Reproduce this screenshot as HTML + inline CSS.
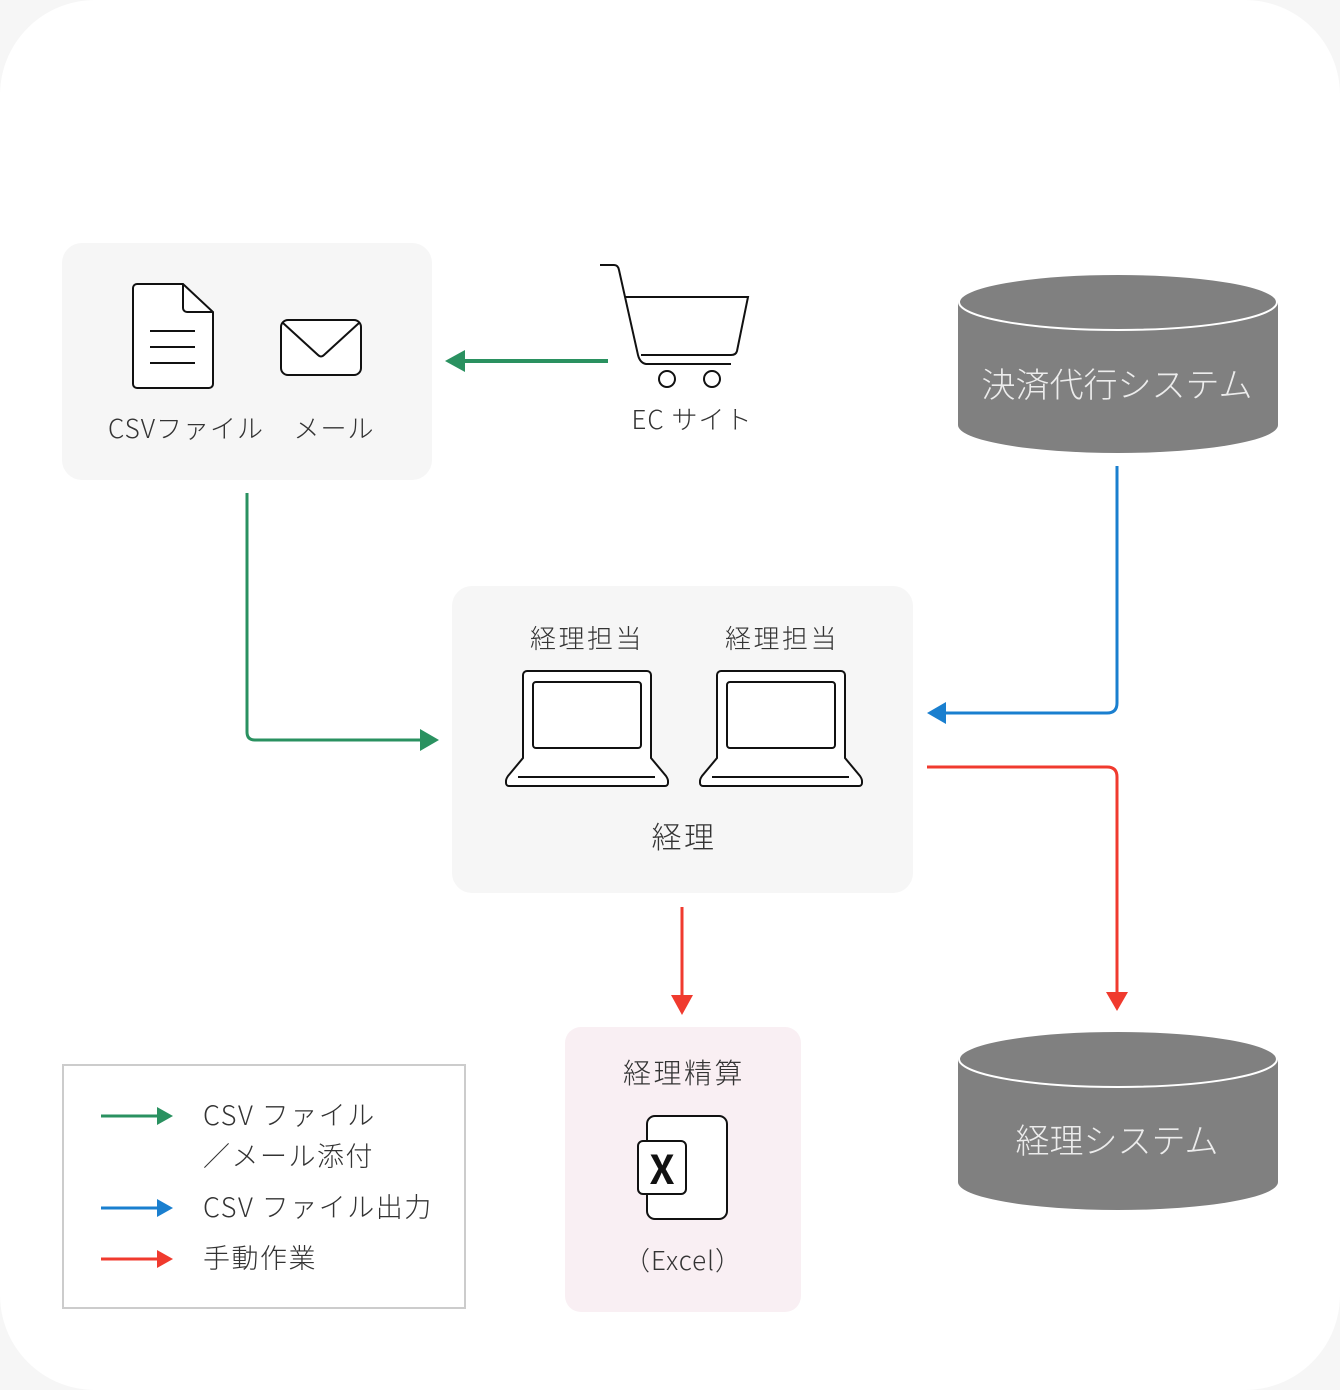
<!DOCTYPE html>
<html><head><meta charset="utf-8"><style>
html,body{margin:0;padding:0;background:#f6f6f6;}
svg{display:block;}
text{font-family:"Noto Sans CJK JP","Liberation Sans",sans-serif;font-weight:300;}
.ls{letter-spacing:2.5px;}
.lg{letter-spacing:1.5px;}
</style></head><body>
<svg width="1340" height="1390" viewBox="0 0 1340 1390" xmlns="http://www.w3.org/2000/svg">
<rect x="0" y="0" width="1340" height="1390" rx="95" fill="#ffffff"/>

<!-- Box1 -->
<rect x="62" y="243" width="370" height="237" rx="20" fill="#f6f6f6"/>
<path d="M137 284 H183 L213 312 V384 a4 4 0 0 1 -4 4 H137 a4 4 0 0 1 -4 -4 V288 a4 4 0 0 1 4 -4 Z" fill="#fff" stroke="#111" stroke-width="2"/>
<path d="M183 284 V308 a4 4 0 0 0 4 4 H213" fill="none" stroke="#111" stroke-width="2"/>
<path d="M150 331 H195 M150 347 H195 M150 363 H195" stroke="#111" stroke-width="2"/>
<rect x="281" y="320" width="80" height="55" rx="7" fill="#fff" stroke="#111" stroke-width="2"/>
<path d="M283 323 L318 355 Q321 358 324 355 L359 323" fill="none" stroke="#111" stroke-width="2"/>
<text x="186" y="438" font-size="26" text-anchor="middle" fill="#333" style="letter-spacing:1px">CSVファイル</text>
<text x="334" y="438" font-size="26" text-anchor="middle" fill="#333" style="letter-spacing:1px">メール</text>

<!-- green arrow from cart -->
<line x1="608" y1="361" x2="462" y2="361" stroke="#2a9160" stroke-width="4"/>
<polygon points="445,361 465,350 465,372" fill="#2a9160"/>

<!-- cart -->
<path d="M600 265 H614 Q618 265 619 270 L638 355 Q640 363 646 364 H731" fill="none" stroke="#111" stroke-width="2"/>
<path d="M625 297 H748 L737 351 Q736 355 731 355 H641" fill="none" stroke="#111" stroke-width="2"/>
<circle cx="667" cy="379" r="8" fill="#fff" stroke="#111" stroke-width="2"/>
<circle cx="712" cy="379" r="8" fill="#fff" stroke="#111" stroke-width="2"/>
<text x="692" y="429" font-size="26" text-anchor="middle" fill="#333" style="letter-spacing:1px">EC サイト</text>

<!-- cylinder 1 -->
<path d="M958 302 V425 A160 28 0 0 0 1278 425 V302 Z" fill="#808080"/>
<ellipse cx="1118" cy="302" rx="159" ry="28" fill="#808080" stroke="#fff" stroke-width="2"/>
<text x="1117" y="397" font-size="34" text-anchor="middle" fill="#ececec">決済代行システム</text>

<!-- blue connector -->
<path d="M1117 466 V703 Q1117 713 1107 713 H944" fill="none" stroke="#1a7fcf" stroke-width="3"/>
<polygon points="927,713 946,702 946,724" fill="#1a7fcf"/>

<!-- green connector -->
<path d="M247 493 V732 Q247 740 255 740 H422" fill="none" stroke="#2a9160" stroke-width="3"/>
<polygon points="439,740 420,729 420,751" fill="#2a9160"/>

<!-- Box2 -->
<rect x="452" y="586" width="461" height="307" rx="20" fill="#f6f6f6"/>
<text x="587" y="648" font-size="26" text-anchor="middle" fill="#333" class="ls">経理担当</text>
<text x="782" y="648" font-size="26" text-anchor="middle" fill="#333" class="ls">経理担当</text>
<g id="lap">
<path d="M527 671 H647 a4 4 0 0 1 4 4 V758 L666 776 Q668 779 668 781 V783 a3 3 0 0 1 -3 3 H509 a3 3 0 0 1 -3 -3 V781 Q506 779 508 776 L523 758 V675 a4 4 0 0 1 4 -4 Z" fill="#fff" stroke="#111" stroke-width="2"/>
<rect x="533" y="682" width="108" height="66" rx="3" fill="#fff" stroke="#111" stroke-width="2"/>
<line x1="518" y1="777" x2="655" y2="777" stroke="#111" stroke-width="2"/>
</g>
<use href="#lap" transform="translate(194,0)"/>
<text x="684" y="848" font-size="30" text-anchor="middle" fill="#333" class="ls">経理</text>

<!-- red connectors -->
<line x1="682" y1="907" x2="682" y2="997" stroke="#f03a2e" stroke-width="3"/>
<polygon points="682,1015 671,995 693,995" fill="#f03a2e"/>
<path d="M927 767 H1107 Q1117 767 1117 777 V995" fill="none" stroke="#f03a2e" stroke-width="3"/>
<polygon points="1117,1011 1106,992 1128,992" fill="#f03a2e"/>

<!-- Box3 -->
<rect x="565" y="1027" width="236" height="285" rx="16" fill="#f9eff3"/>
<text x="684" y="1083" font-size="28" text-anchor="middle" fill="#333" class="ls">経理精算</text>
<rect x="647" y="1116" width="80" height="103" rx="8" fill="#fff" stroke="#111" stroke-width="2"/>
<rect x="638" y="1141" width="48" height="53" rx="5" fill="#fff" stroke="#111" stroke-width="2"/>
<text x="662" y="1184" font-size="40" text-anchor="middle" fill="#111" style="font-weight:700">X</text>
<text x="683" y="1270" font-size="26" text-anchor="middle" fill="#333" style="letter-spacing:1px">（Excel）</text>

<!-- cylinder 2 -->
<path d="M958 1059 V1182 A160 28 0 0 0 1278 1182 V1059 Z" fill="#808080"/>
<ellipse cx="1118" cy="1059" rx="159" ry="28" fill="#808080" stroke="#fff" stroke-width="2"/>
<text x="1117" y="1153" font-size="34" text-anchor="middle" fill="#ececec">経理システム</text>

<!-- legend -->
<rect x="63" y="1065" width="402" height="243" fill="#fff" stroke="#cccccc" stroke-width="2"/>
<line x1="101" y1="1116" x2="158" y2="1116" stroke="#2a9160" stroke-width="3"/>
<polygon points="173,1116 157,1107 157,1125" fill="#2a9160"/>
<line x1="101" y1="1208" x2="158" y2="1208" stroke="#1a7fcf" stroke-width="3"/>
<polygon points="173,1208 157,1199 157,1217" fill="#1a7fcf"/>
<line x1="101" y1="1259" x2="158" y2="1259" stroke="#f03a2e" stroke-width="3"/>
<polygon points="173,1259 157,1250 157,1268" fill="#f03a2e"/>
<text x="203" y="1125" font-size="27" fill="#333" class="lg">CSV ファイル</text>
<text x="203" y="1166" font-size="27" fill="#333" class="lg">／メール添付</text>
<text x="203" y="1217" font-size="27" fill="#333" class="lg">CSV ファイル出力</text>
<text x="203" y="1268" font-size="27" fill="#333" class="lg">手動作業</text>
</svg>
</body></html>
